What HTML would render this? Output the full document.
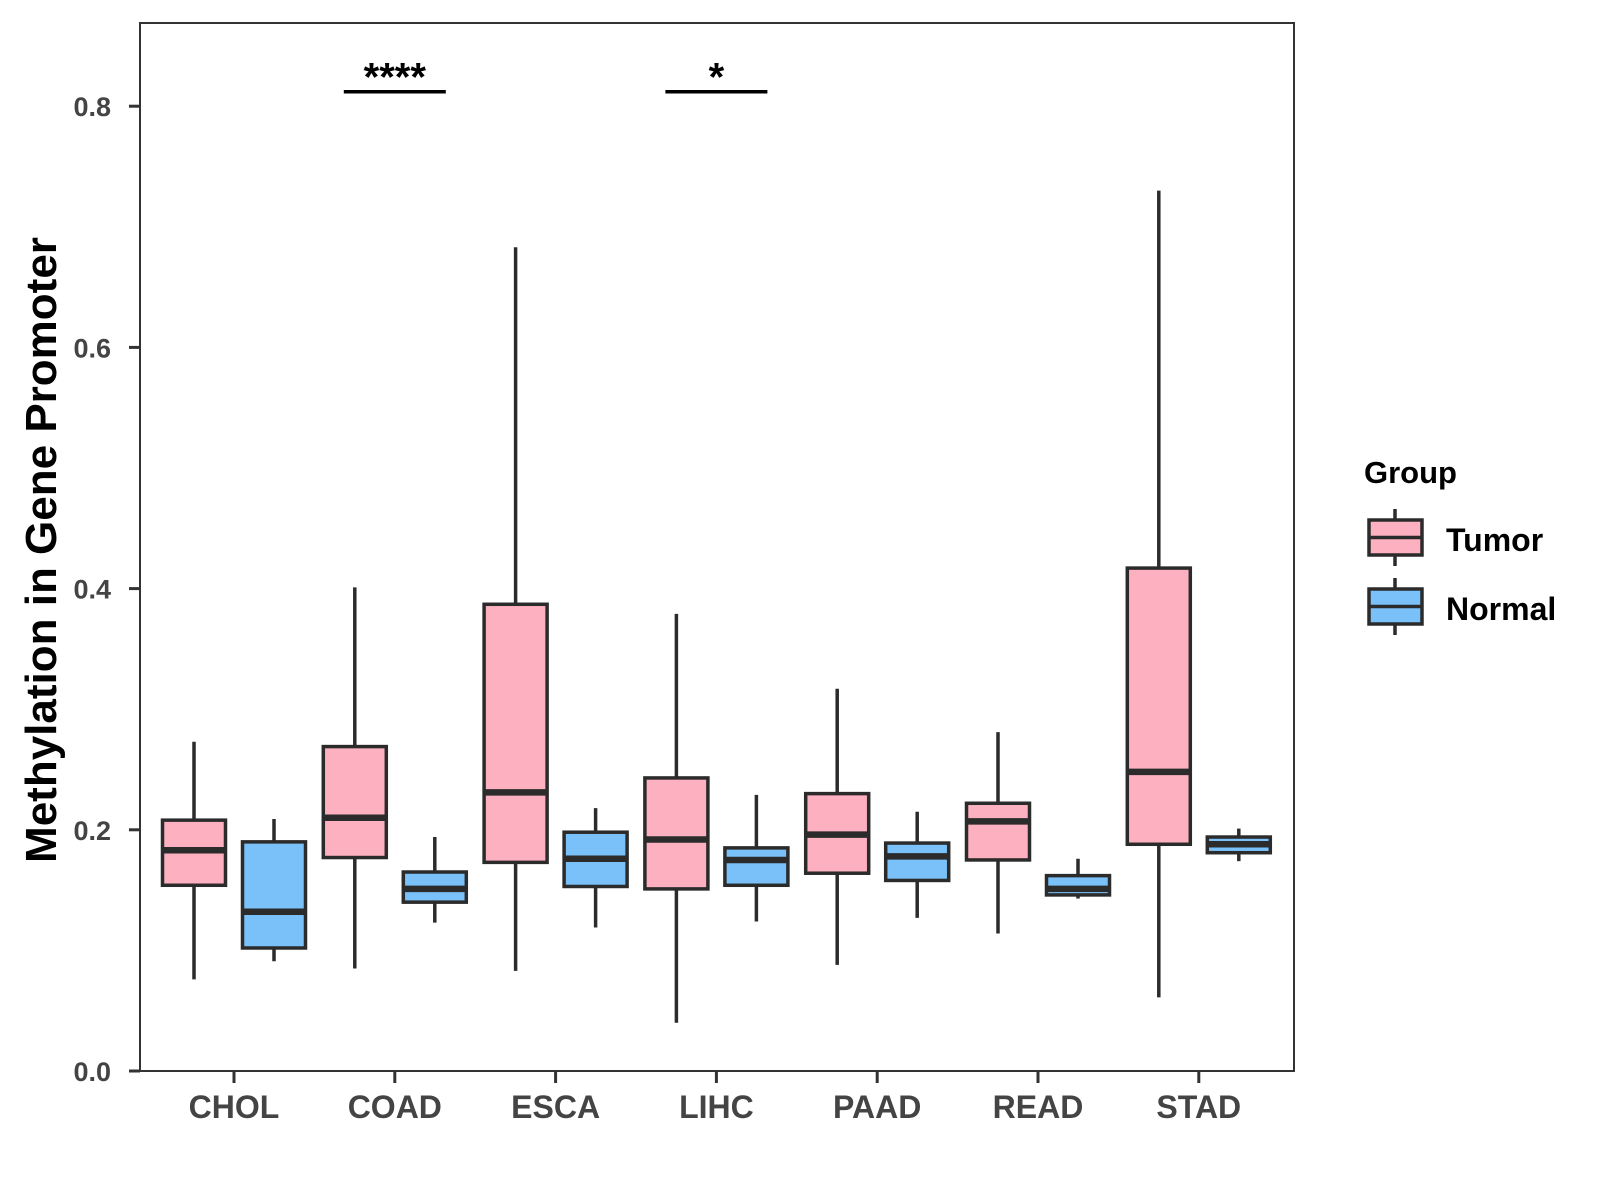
<!DOCTYPE html>
<html><head><meta charset="utf-8"><style>
html,body{margin:0;padding:0;background:#fff;}
svg{display:block;font-family:"Liberation Sans",Arial,sans-serif;}
</style></head><body>
<svg id="chart" width="1600" height="1200" viewBox="0 0 1600 1200">
<rect x="0" y="0" width="1600" height="1200" fill="#fff"/>
<g id="marks"></g>
<rect x="140" y="23" width="1154" height="1048" fill="none" stroke="#333" stroke-width="2"/>
<g id="yaxis"></g>
<g id="xaxis"></g>
<text transform="translate(56,550) rotate(-90)" text-anchor="middle" font-size="44" font-weight="bold" fill="#000">Methylation in Gene Promoter</text>
<g>
<text x="1364" y="483" font-size="31" font-weight="bold" fill="#000">Group</text>
<g>
<line x1="1395" y1="509" x2="1395" y2="566" stroke="#2b2b2b" stroke-width="3.5"/>
<rect x="1369" y="520" width="53" height="35" fill="#FDB0C0" stroke="#2b2b2b" stroke-width="3.5"/>
<line x1="1369" y1="537.5" x2="1422" y2="537.5" stroke="#2b2b2b" stroke-width="3.5"/>
<text x="1446" y="551" font-size="32" font-weight="bold" fill="#000">Tumor</text>
</g>
<g>
<line x1="1395" y1="578" x2="1395" y2="635" stroke="#2b2b2b" stroke-width="3.5"/>
<rect x="1369" y="589" width="53" height="35" fill="#79C1F8" stroke="#2b2b2b" stroke-width="3.5"/>
<line x1="1369" y1="606.5" x2="1422" y2="606.5" stroke="#2b2b2b" stroke-width="3.5"/>
<text x="1446" y="620" font-size="32" font-weight="bold" fill="#000">Normal</text>
</g>
</g>
</svg>
<script>
const categories = ["CHOL","COAD","ESCA","LIHC","PAAD","READ","STAD"];
const tumorMin = [0.076,0.085,0.083,0.040,0.088,0.114,0.061];
const tumorQ1  = [0.154,0.177,0.173,0.151,0.164,0.175,0.188];
const tumorMed = [0.183,0.210,0.231,0.192,0.196,0.207,0.248];
const tumorQ3  = [0.208,0.269,0.387,0.243,0.230,0.222,0.417];
const tumorMax = [0.273,0.401,0.683,0.379,0.317,0.281,0.730];
const normalMin = [0.091,0.123,0.119,0.124,0.127,0.143,0.174];
const normalQ1  = [0.102,0.140,0.153,0.154,0.158,0.146,0.181];
const normalMed = [0.132,0.151,0.176,0.175,0.178,0.151,0.188];
const normalQ3  = [0.190,0.165,0.198,0.185,0.189,0.162,0.194];
const normalMax = [0.209,0.194,0.218,0.229,0.215,0.176,0.201];
const yTicks = [0.0,0.2,0.4,0.6,0.8];
const yTickLabels = ["0.0","0.2","0.4","0.6","0.8"];
const sigCategories = ["COAD","LIHC"];
const sigLabels = ["****","*"];
const sigLevel = 0.812;

const NS="http://www.w3.org/2000/svg";
function y(v){return 1071 - v*1206;}
function x(i){return 234 + i*160.8;}
function mk(tag, attrs, parent){const e=document.createElementNS(NS,tag);for(const k in attrs)e.setAttribute(k,attrs[k]);parent.appendChild(e);return e;}
const marks=document.getElementById('marks');
const STROKE="#2b2b2b";
function drawBox(cx, lo, q1, md, q3, hi, fill, name){
  const g=mk('g',{},marks);
  
  
  const w=63;
  mk('line',{x1:cx,x2:cx,y1:y(hi),y2:y(lo),stroke:STROKE,'stroke-width':3.5},g);
  mk('rect',{x:cx-w/2,y:y(q3),width:w,height:y(q1)-y(q3),fill:fill,stroke:STROKE,'stroke-width':3.5},g);
  mk('line',{x1:cx-w/2,x2:cx+w/2,y1:y(md),y2:y(md),stroke:STROKE,'stroke-width':6.5},g);
}
categories.forEach((c,i)=>{
  drawBox(x(i)-40, tumorMin[i], tumorQ1[i], tumorMed[i], tumorQ3[i], tumorMax[i], "#FDB0C0", "box-tumor-"+c.toLowerCase());
  drawBox(x(i)+40, normalMin[i], normalQ1[i], normalMed[i], normalQ3[i], normalMax[i], "#79C1F8", "box-normal-"+c.toLowerCase());
});
sigCategories.forEach((c,k)=>{
  const i=categories.indexOf(c);
  const g=mk('g',{},marks);
  
  
  mk('line',{x1:x(i)-51,x2:x(i)+51,y1:y(sigLevel),y2:y(sigLevel),stroke:"#000",'stroke-width':3.5},g);
  const t=mk('text',{x:x(i),y:y(sigLevel)-1,'text-anchor':'middle','font-size':40,'font-weight':'bold',fill:'#000'},g);
  t.textContent=sigLabels[k];
});
const ya=document.getElementById('yaxis');
yTicks.forEach((v,i)=>{
  mk('line',{x1:129,x2:140,y1:y(v),y2:y(v),stroke:"#333",'stroke-width':3},ya);
  const t=mk('text',{x:111,y:y(v)+10,'text-anchor':'end','font-size':27,'font-weight':'bold',fill:'#444'},ya);
  
  
  t.textContent=yTickLabels[i];
});
const xa=document.getElementById('xaxis');
categories.forEach((c,i)=>{
  mk('line',{x1:x(i),x2:x(i),y1:1071,y2:1083,stroke:"#333",'stroke-width':3},xa);
  const t=mk('text',{x:x(i),y:1118,'text-anchor':'middle','font-size':32,'font-weight':'bold',fill:'#444'},xa);
  
  
  t.textContent=c;
});
</script>
</body></html>
